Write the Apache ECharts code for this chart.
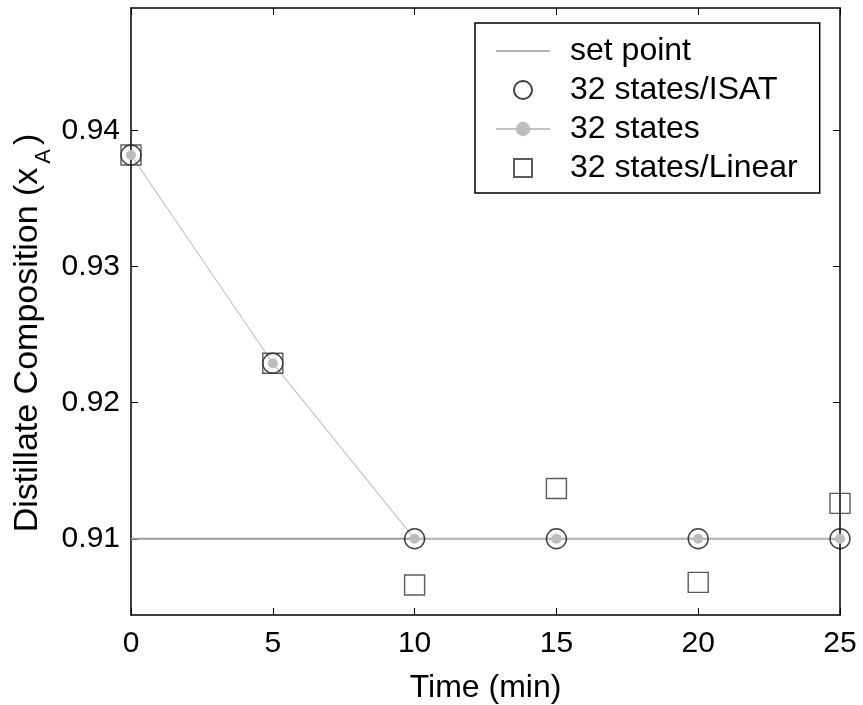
<!DOCTYPE html>
<html>
<head>
<meta charset="utf-8">
<script src="https://cdn.jsdelivr.net/npm/echarts@6/dist/echarts.min.js"></script>
<style>
html,body{margin:0;padding:0;background:#fff;}
#chart{width:863px;height:705px;}
</style>
</head>
<body>
<div id="chart"></div>
<script>
var times = [0, 5, 10, 15, 20, 25];
var setPoint = [0.91, 0.91, 0.91, 0.91, 0.91, 0.91];
var isat = [0.9382, 0.9229, 0.91, 0.91, 0.91, 0.91];
var states32 = [0.9382, 0.9229, 0.91, 0.91, 0.91, 0.91];
var linear = [0.9382, 0.9229, 0.9066, 0.9137, 0.9068, 0.9126];
var xTicks = [0, 5, 10, 15, 20, 25];
var yTicks = [0.91, 0.92, 0.93, 0.94];

function pairs(ys) { return times.map(function (t, i) { return [t, ys[i]]; }); }

var FONT = 'Liberation Sans, Arial, sans-serif';
var chart = echarts.init(document.getElementById('chart'));
var axisLine = { show: true, onZero: false, lineStyle: { color: '#000', width: 1.5 } };
var tickIn = { show: true, inside: true, length: 7, lineStyle: { color: '#000', width: 1 } };
var lineIcon = 'path://M0,0L0.01,0L0,0.01Z M0,8.3L54,8.3L54,9.8L0,9.8Z M54,18L53.99,18L54,17.99Z';
var squareIcon = 'path://M0,0L10,0L10,10L0,10Z';

chart.setOption({
  animation: false,
  backgroundColor: '#fff',
  grid: { left: 131, right: 23, top: 8, bottom: 90, containLabel: false, outerBoundsMode: 'none' },
  xAxis: [
    { type: 'value', min: 0, max: 25, interval: 5, axisLine: axisLine, axisTick: tickIn,
      splitLine: { show: false },
      axisLabel: { color: '#000', fontSize: 30, fontFamily: FONT, margin: 14 },
      name: 'Time (min)', nameLocation: 'middle', nameGap: 57,
      nameTextStyle: { color: '#000', fontSize: 32, fontFamily: FONT } },
    { type: 'value', position: 'top', min: 0, max: 25, interval: 5, axisLine: axisLine, axisTick: tickIn,
      splitLine: { show: false }, axisLabel: { show: false } }
  ],
  yAxis: [
    { type: 'value', min: 0.9044, max: 0.949, axisLine: axisLine,
      axisTick: { show: true, inside: true, length: 7, lineStyle: { color: '#000', width: 1 }, customValues: yTicks },
      splitLine: { show: false },
      axisLabel: { color: '#000', fontSize: 30, fontFamily: FONT, margin: 11, customValues: yTicks,
        formatter: function (v) { return v.toFixed(2); } } },
    { type: 'value', position: 'right', min: 0.9044, max: 0.949, axisLine: axisLine,
      axisTick: { show: true, inside: true, length: 7, lineStyle: { color: '#000', width: 1 }, customValues: yTicks },
      splitLine: { show: false }, axisLabel: { show: false } }
  ],
  legend: {
    orient: 'vertical', left: 475, top: 23,
    backgroundColor: '#fff', borderColor: '#000', borderWidth: 1.5, borderRadius: 0,
    padding: [12, 22, 9, 20], itemGap: 7, itemWidth: 54, itemHeight: 18,
    textStyle: { color: '#000', fontSize: 32, fontFamily: FONT, padding: [0, 0, 0, 15] },
    data: [
      { name: 'set point', icon: lineIcon },
      { name: '32 states/ISAT' },
      { name: '32 states' },
      { name: '32 states/Linear', icon: squareIcon }
    ]
  },
  graphic: [{
    type: 'text', x: 28, y: 333, rotation: Math.PI / 2,
    style: {
      text: '{a|Distillate Composition (x}{b|A}{a|)}',
      align: 'center', verticalAlign: 'middle',
      rich: {
        a: { fontSize: 34, fontFamily: FONT, fill: '#000', verticalAlign: 'top', lineHeight: 34 },
        b: { fontSize: 22, fontFamily: FONT, fill: '#000', verticalAlign: 'top', lineHeight: 22, padding: [22, 4, 0, 4] }
      }
    }
  }],
  series: [
    { name: 'set point', type: 'line', data: pairs(setPoint), symbol: 'none',
      lineStyle: { color: '#999', width: 2 }, itemStyle: { color: '#999' }, z: 2 },
    { name: '32 states', type: 'line', data: pairs(states32), symbol: 'circle', symbolSize: 10,
      showSymbol: true,
      lineStyle: { color: '#c4c4c4', width: 1.2 }, itemStyle: { color: '#bdbdbd', borderWidth: 0 }, z: 3 },
    { name: '32 states/ISAT', type: 'scatter', data: pairs(isat), symbol: 'circle', symbolSize: 20, clip: false,
      itemStyle: { color: 'rgba(0,0,0,0)', borderColor: '#111', borderWidth: 1.4 }, z: 4 },
    { name: '32 states/Linear', type: 'scatter', data: pairs(linear), symbol: 'rect', symbolSize: 20, clip: false,
      symbolKeepAspect: true,
      itemStyle: { color: 'rgba(0,0,0,0)', borderColor: '#333', borderWidth: 1.4 }, z: 4 }
  ]
});
</script>
</body>
</html>
